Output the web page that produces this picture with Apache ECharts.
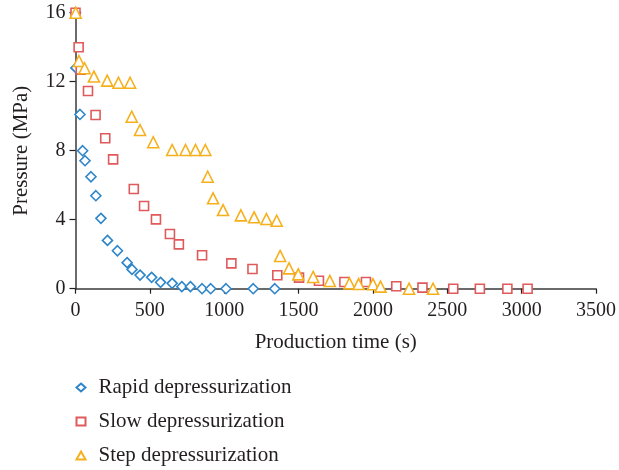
<!DOCTYPE html>
<html>
<head>
<meta charset="utf-8">
<script src="https://cdn.jsdelivr.net/npm/echarts@6/dist/echarts.min.js"></script>
<style>
  html, body { margin: 0; padding: 0; background: #fff; }
  #chart { width: 619px; height: 470px; }
</style>
</head>
<body>
<div id="chart"></div>
<script>
// Production time (s) and pressure (MPa) for each depressurization mode
var rapidTime = [0, 3, 30, 48, 64, 104, 137, 171, 215, 282, 347, 380, 434, 512, 572, 650, 715, 773, 851, 909, 1012, 1195, 1340];
var rapidPressure = [16, 12.8, 10.1, 8.0, 7.42, 6.49, 5.39, 4.08, 2.8, 2.2, 1.51, 1.12, 0.79, 0.66, 0.37, 0.31, 0.12, 0.12, 0, 0, 0, 0, 0];

var slowTime = [0, 21, 35, 84, 135, 200, 253, 392, 461, 541, 635, 695, 851, 1048, 1190, 1357, 1503, 1637, 1808, 1953, 2157, 2333, 2540, 2719, 2904, 3040];
var slowPressure = [16, 14.0, 12.7, 11.46, 10.07, 8.72, 7.5, 5.78, 4.79, 4.02, 3.17, 2.57, 1.94, 1.47, 1.14, 0.78, 0.64, 0.46, 0.39, 0.39, 0.14, 0.06, 0, 0, 0, 0];

var stepTime = [1, 23, 61, 124, 213, 289, 367, 378, 434, 523, 650, 740, 807, 873, 889, 925, 992, 1112, 1201, 1284, 1353, 1376, 1436, 1498, 1598, 1710, 1842, 1904, 2000, 2051, 2243, 2404];
var stepPressure = [16, 13.2, 12.78, 12.3, 12.06, 11.94, 11.94, 9.97, 9.2, 8.49, 8.04, 8.04, 8.04, 8.04, 6.49, 5.24, 4.56, 4.25, 4.14, 4.04, 3.94, 1.9, 1.18, 0.83, 0.68, 0.45, 0.31, 0.27, 0.26, 0.12, 0, 0];

var xTicks = [0, 500, 1000, 1500, 2000, 2500, 3000, 3500];
var yTicks = [0, 4, 8, 12, 16];

var seriesNames = ['Rapid depressurization', 'Slow depressurization', 'Step depressurization'];

function pairs(xs, ys) {
  return xs.map(function (x, i) { return [x, ys[i]]; });
}

var FONT = '"Liberation Serif", "DejaVu Serif", serif';
var TEXT = '#231f20';

var chart = echarts.init(document.getElementById('chart'), null, { renderer: 'canvas' });

function scatter(name, data, symbol, size, color) {
  return {
    name: name,
    type: 'scatter',
    data: data,
    symbol: symbol,
    symbolSize: size,
    itemStyle: { color: '#ffffff', borderColor: color, borderWidth: 1.6, opacity: 1 },
    emphasis: { disabled: true },
    z: 3
  };
}

chart.setOption({
  animation: false,
  backgroundColor: '#ffffff',
  textStyle: { fontFamily: FONT, color: TEXT },
  grid: { left: 75.5, right: 21.3, top: 12.7, bottom: 181.3, containLabel: false },
  xAxis: {
    type: 'value',
    min: xTicks[0],
    max: xTicks[xTicks.length - 1],
    interval: 500,
    name: 'Production time (s)',
    nameLocation: 'middle',
    nameGap: 43,
    nameTextStyle: { fontFamily: FONT, fontSize: 21, color: TEXT },
    axisLine: { show: true, lineStyle: { color: '#3a3a3a', width: 1.5 } },
    axisTick: { show: true, inside: false, length: 5, lineStyle: { color: '#231f20', width: 1.2 } },
    axisLabel: { fontFamily: FONT, fontSize: 20, color: TEXT, margin: 12, formatter: function (v) { return String(v); } },
    splitLine: { show: false }
  },
  yAxis: {
    type: 'value',
    min: yTicks[0],
    max: yTicks[yTicks.length - 1],
    interval: 4,
    name: 'Pressure (MPa)',
    nameLocation: 'middle',
    nameGap: 44,
    nameRotate: 90,
    nameTextStyle: { fontFamily: FONT, fontSize: 21, color: TEXT },
    axisLine: { show: true, lineStyle: { color: '#3a3a3a', width: 1.5 } },
    axisTick: { show: true, inside: false, length: 6, lineStyle: { color: '#231f20', width: 1.2 } },
    axisLabel: { fontFamily: FONT, fontSize: 20, color: TEXT, margin: 10, formatter: function (v) { return String(v); } },
    splitLine: { show: false }
  },
  legend: {
    orient: 'vertical',
    left: 75.5,
    top: 377,
    padding: 0,
    itemGap: 13,
    itemWidth: 9,
    itemHeight: 8,
    textStyle: { fontFamily: FONT, fontSize: 21, color: TEXT, padding: [0, 0, 0, 8] },
    data: seriesNames
  },
  series: [
    scatter(seriesNames[0], pairs(rapidTime, rapidPressure), 'diamond', 10, '#2e86c9'),
    scatter(seriesNames[1], pairs(slowTime, slowPressure), 'rect', 9, '#e05a5c'),
    scatter(seriesNames[2], pairs(stepTime, stepPressure), 'triangle', 11, '#f6b01c')
  ]
});
</script>
</body>
</html>
